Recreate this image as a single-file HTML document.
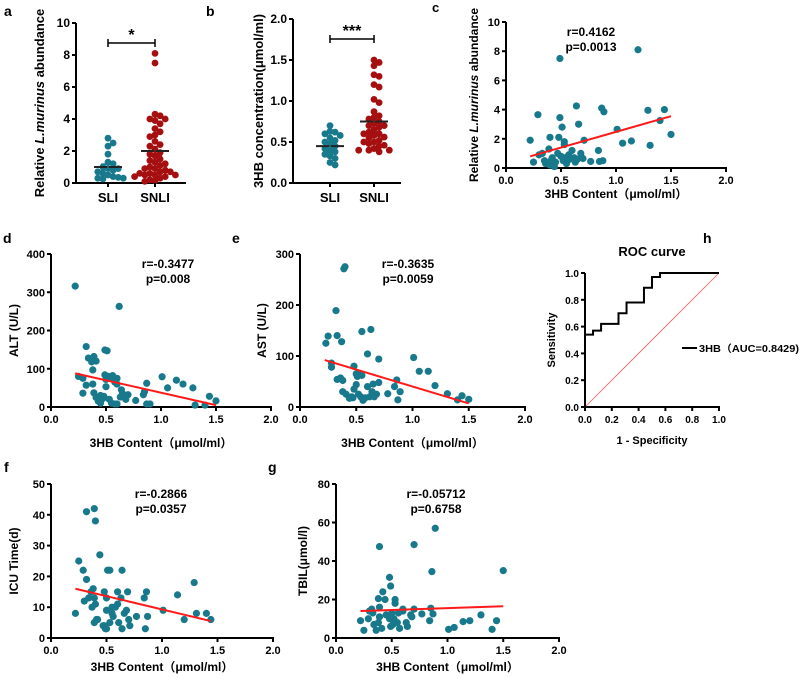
<!DOCTYPE html>
<html><head><meta charset="utf-8"><style>
body{margin:0;background:#fff}
svg{display:block;font-family:"Liberation Sans","Noto Sans CJK SC",Arial,sans-serif;font-weight:bold}
</style></head><body>
<svg id="fig" width="800" height="678" viewBox="0 0 800 678" xmlns="http://www.w3.org/2000/svg">
<g font-size="14">
<text x="4" y="16">a</text>
<text x="206" y="16">b</text>
<text x="432" y="12" font-size="13">c</text>
<text x="3" y="243">d</text>
<text x="232" y="243">e</text>
<text x="703" y="243">h</text>
<text x="4" y="472">f</text>
<text x="268" y="472">g</text>
</g>
</svg>
<script>
const TEAL='#18798c', DARKRED='#a50f0f', LRED='#ff1a1a';
// Panel a
const aSLI=[2.8,2.5,2.3,1.8,1.3,1.2,1.0,0.9,0.9,0.8,0.7,0.6,0.5,0.4,0.35,0.3,0.3,0.25];
const aSNLI=[8.1,7.5,4.3,4.2,4.0,4.0,3.9,3.7,3.4,3.2,3.0,2.9,2.6,2.4,2.3,2.1,1.9,1.8,1.7,1.5,1.4,1.3,1.2,1.1,1.0,0.9,0.9,0.8,0.7,0.7,0.6,0.6,0.5,0.5,0.5,0.4,0.4,0.3,0.2,0.15,0.1];
const aMean=[1.0,2.0], aSem=[0.18,0.28];
const aTicks=[0,2,4,6,8,10];
// Panel b
const bSLI=[0.7,0.63,0.62,0.6,0.58,0.55,0.52,0.5,0.48,0.45,0.42,0.4,0.38,0.35,0.33,0.3,0.25,0.22];
const bSNLI=[1.5,1.47,1.43,1.32,1.3,1.2,1.17,1.02,0.98,0.87,0.82,0.8,0.78,0.75,0.73,0.7,0.7,0.68,0.65,0.62,0.6,0.6,0.58,0.56,0.55,0.52,0.5,0.5,0.48,0.46,0.45,0.42,0.4,0.4,0.4,0.38];
const bMean=[0.45,0.75], bSem=[0.03,0.05];
const bTicks=[0,0.5,1.0,1.5,2.0];
const groups=['SLI','SNLI'];
// Panel c
const cX=[0.22,0.29,0.49,1.2,0.64,0.87,0.89,0.49,0.66,0.51,0.4,0.48,0.53,0.53,0.71,1.01,1.06,1.14,1.29,1.44,1.4,1.5,1.31,0.84,0.25,0.3,0.33,0.35,0.39,0.4,0.42,0.45,0.47,0.5,0.52,0.55,0.57,0.6,0.62,0.65,0.68,0.7,0.77,0.85,0.88,0.36,0.44,0.54,0.63,0.41,0.58];
const cY=[1.9,3.65,7.5,8.1,4.25,4.1,3.85,3.45,3.0,2.8,2.1,2.1,1.8,1.6,1.9,2.65,1.7,1.85,3.95,4.0,3.25,2.3,1.55,1.2,0.4,0.9,1.0,0.5,1.3,0.2,0.7,0.4,1.0,0.8,0.5,0.3,0.9,1.2,0.7,0.6,1.0,0.65,0.45,0.45,0.5,0.3,0.1,0.7,0.4,0.5,0.6];
const cFit=[[0.22,0.8],[1.5,3.55]];
// Panel d
const dX=[0.22,0.62,0.32,0.49,0.51,0.34,0.39,0.41,0.37,0.38,0.25,0.29,0.32,0.29,0.38,0.39,0.41,0.43,0.45,0.47,0.49,0.5,0.5,0.52,0.54,0.56,0.58,0.6,0.6,0.53,0.55,0.58,0.6,0.64,0.65,0.66,0.68,0.7,0.77,0.84,0.85,0.87,0.87,0.9,1.01,1.06,1.14,1.2,1.29,1.31,1.4,1.44,1.5,0.48,0.45,0.63];
const dY=[316,263,158,149,147,128,132,120,118,97,80,75,57,36,60,37,25,15,10,22,84,72,53,80,75,82,65,75,60,20,10,8,8,45,35,30,20,32,17,32,40,62,8,8,79,50,70,60,50,5,5,28,16,28,30,26];
const dFit=[[0.22,88],[1.5,5]];
// Panel e
const eX=[0.4,0.39,0.32,0.23,0.25,0.33,0.37,0.55,0.63,0.6,0.7,0.28,0.28,0.33,0.36,0.38,0.38,0.41,0.44,0.46,0.48,0.5,0.51,0.53,0.55,0.48,0.5,0.52,0.54,0.56,0.6,0.62,0.64,0.65,0.66,0.68,0.7,0.78,0.84,0.86,0.87,0.89,1.01,1.06,1.14,1.2,1.31,1.4,1.44,1.5,0.47,0.58];
const eY=[275,271,189,125,139,140,128,148,152,104,94,86,78,54,57,52,30,25,17,20,80,65,60,63,62,35,44,25,20,13,40,20,30,45,20,25,48,26,40,53,14,30,97,70,70,42,26,14,22,15,18,18];
const eFit=[[0.22,92],[1.5,7]];
// Panel f
const fX=[0.32,0.39,0.4,0.44,0.25,0.29,0.32,0.22,0.3,0.34,0.36,0.38,0.39,0.37,0.4,0.39,0.41,0.42,0.48,0.5,0.51,0.53,0.64,0.6,0.63,0.69,0.86,0.84,0.5,0.53,0.55,0.56,0.58,0.6,0.61,0.64,0.66,0.68,0.7,0.71,0.77,0.85,0.87,0.48,0.49,0.5,0.47,1.01,1.14,1.2,1.29,1.31,1.4,1.44,0.55];
const fY=[41,42,38,27,25,22,19,8,12,13,15,16,13,10,11,5,6,6,15,13,22,22,22,15,13,15,15,13,9,5,8,7,10,11,5,3,8,9,6,4,7,3,7,4,3,3,4,9,14,6,18,8,8,6,10];
const fFit=[[0.22,16],[1.44,5.5]];
// Panel g
const gX=[0.89,0.7,0.39,0.86,1.5,0.48,0.49,0.42,0.38,0.44,0.53,0.53,0.22,0.25,0.29,0.3,0.32,0.33,0.34,0.36,0.38,0.39,0.39,0.45,0.48,0.5,0.49,0.52,0.55,0.56,0.57,0.6,0.6,0.63,0.64,0.67,0.68,0.7,0.77,0.84,0.85,0.87,1.01,1.06,1.14,1.2,1.3,1.4,1.44,0.41,0.51];
const gY=[57,48.5,47.5,34.5,35,31.5,27,24,20.5,20,20,18,9,4,10,14,15,13,7,4,8,11,16,12,10,13,6,10,8,13,5,14,15,8,6,12,11,15,12.5,9,15.5,12.5,4.5,5.5,8.5,9,12,4.5,9,5,7];
const gFit=[[0.22,14],[1.5,16.5]];
// Panel h (ROC)
const rocFPR=[0,0,0.06,0.06,0.12,0.12,0.25,0.25,0.31,0.31,0.44,0.44,0.5,0.5,0.56,0.56,1];
const rocTPR=[0,0.54,0.54,0.57,0.57,0.62,0.62,0.7,0.7,0.78,0.78,0.89,0.89,0.97,0.97,1,1];
const xTicks2=[0,0.5,1.0,1.5,2.0];
const rocTicks=[0,0.2,0.4,0.6,0.8,1.0];

const svg=document.getElementById('fig');
const NS='http://www.w3.org/2000/svg';
function el(tag,attrs,parent,txt){const e=document.createElementNS(NS,tag);for(const k in attrs)e.setAttribute(k,attrs[k]);if(txt!==undefined)e.textContent=txt;(parent||svg).appendChild(e);return e;}
function fmt(v,dec){return dec?v.toFixed(dec):String(v);}

function axes(g,x0,x1,y0,y1,yTicks,yMin,yMax,dec,xTicks,xMin,xMax,xdec,fs){
  const sy=v=>y0-(v-yMin)/(yMax-yMin)*(y0-y1);
  const sx=v=>x0+(v-xMin)/(xMax-xMin)*(x1-x0);
  const ya=el('line',{x1:x0,y1:y0+1,x2:x0,y2:y1,stroke:'#000','stroke-width':2},g);
  
  const xa=el('line',{x1:x0-1,y1:y0,x2:x1+1,y2:y0,stroke:'#000','stroke-width':2},g);
  
  yTicks.forEach(v=>{const y=sy(v);
    el('line',{x1:x0-4,y1:y,x2:x0,y2:y,stroke:'#000','stroke-width':2},g);
    const t=el('text',{x:x0-6,y:y+4,'text-anchor':'end','font-size':fs||11},g,fmt(v,dec));
    });
  if(xTicks)xTicks.forEach(v=>{const x=sx(v);
    el('line',{x1:x,y1:y0,x2:x,y2:y0+4,stroke:'#000','stroke-width':2},g);
    const t=el('text',{x:x,y:y0+16,'text-anchor':'middle','font-size':fs||11},g,fmt(v,xdec));
    });
  return {sx,sy};
}
function ytitle(g,x,y,txt,fs){const t=el('text',{x:x,y:y,'text-anchor':'middle','font-size':fs||12,transform:`rotate(-90 ${x} ${y})`},g);
  if(typeof txt==='string')t.textContent=txt;else txt.forEach(p=>{el('tspan',p[1]?{'font-style':'italic'}:{},t,p[0]);});
  return t;}
function xtitle(g,x,y,txt){const t=el('text',{x:x,y:y,'text-anchor':'middle','font-size':12},g,txt);
  }
function stats(g,x,y,r,p){const t1=el('text',{x:x,y:y,'text-anchor':'middle','font-size':12},g,r);
  
  const t2=el('text',{x:x,y:y+15,'text-anchor':'middle','font-size':12},g,p);
  }

function scatter(name,X,Y,fit,geom,yTicks,yMax,ytxt,st,xtOff){
  const g=el('g',{});
  const a=axes(g,geom[0],geom[1],geom[2],geom[3],yTicks,0,yMax,geom[4],xTicks2,0,2,1);
  X.forEach((x,i)=>{const c=el('circle',{cx:a.sx(x),cy:a.sy(Y[i]),r:3.6,fill:TEAL},g);
    });
  const l=el('line',{x1:a.sx(fit[0][0]),y1:a.sy(fit[0][1]),x2:a.sx(fit[1][0]),y2:a.sy(fit[1][1]),stroke:LRED,'stroke-width':2},g);
  
  if(ytxt)ytitle(g,geom[5],(geom[2]+geom[3])/2,ytxt);
  xtitle(g,(geom[0]+geom[1])/2,geom[2]+xtOff,'3HB Content\uFF08\u03BCmol/ml\uFF09');
  stats(g,geom[6],geom[3]+14,st[0],st[1]);
  return g;
}

function swarm(vals,sy,cx,r){const placed=[];const d=r*1.5;return vals.map(v=>{const y=sy(v);let k=0;
  for(;;){const off=(k%2?1:-1)*Math.ceil(k/2)*d;const x=cx+off;
    if(placed.every(p=>Math.hypot(p[0]-x,p[1]-y)>=d)){placed.push([x,y]);return [x,y];}k++;}});}

function dotplot(name,s1,s2,mean,sem,geom,yTicks,yMax,dec,ytxt,stars,brY){
  const g=el('g',{});
  const a=axes(g,geom[0],geom[1],geom[2],geom[3],yTicks,0,yMax,dec,null,0,1,0,12);
  const cxs=[geom[4],geom[5]];const cols=[TEAL,DARKRED];
  [s1,s2].forEach((s,gi)=>{swarm(s,a.sy,cxs[gi],3.4).forEach(p=>{const c=el('circle',{cx:p[0],cy:p[1],r:3.4,fill:cols[gi]},g);
    });
    const m=el('line',{x1:cxs[gi]-14,y1:a.sy(mean[gi]),x2:cxs[gi]+14,y2:a.sy(mean[gi]),stroke:'#222','stroke-width':2},g);
    
    el('path',{d:`M${cxs[gi]-7},${a.sy(mean[gi]+sem[gi])}H${cxs[gi]+7}M${cxs[gi]},${a.sy(mean[gi]+sem[gi])}V${a.sy(mean[gi]-sem[gi])}M${cxs[gi]-7},${a.sy(mean[gi]-sem[gi])}H${cxs[gi]+7}`,stroke:cols[gi],'stroke-width':1.5,fill:'none'},g);
    el('line',{x1:cxs[gi],y1:geom[2],x2:cxs[gi],y2:geom[2]+4,stroke:'#000','stroke-width':2},g);
    const t=el('text',{x:cxs[gi],y:geom[2]+19,'text-anchor':'middle','font-size':13},g,groups[gi]);
    });
  const b=el('path',{d:`M${cxs[0]},${brY-4}V${brY+4}M${cxs[0]},${brY}H${cxs[1]}M${cxs[1]},${brY-4}V${brY+4}`,stroke:'#000','stroke-width':1.5,fill:'none'},g);
  
  const st=el('text',{x:(cxs[0]+cxs[1])/2,y:brY-3,'text-anchor':'middle','font-size':16},g,stars);
  
  ytitle(g,geom[6],(geom[2]+geom[3])/2,ytxt,13);
}

dotplot('panel-a',aSLI,aSNLI,aMean,aSem,[76,185,183,23,108,155,44],aTicks,10,0,[['Relative '],['L.murinus',1],[' abundance']],'*',43);
dotplot('panel-b',bSLI,bSNLI,bMean,bSem,[293,400,183,19,330,374,263],bTicks,2,1,'3HB concentration(\u03BCmol/ml)','***',39);
const gc=scatter('panel-c',cX,cY,cFit,[506,726,168,22,0,478,591],aTicks,10,null,['r=0.4162','p=0.0013'],30);
ytitle(gc,478,95,[['Relative '],['L.murinus',1],[' abundance']],12);
scatter('panel-d',dX,dY,dFit,[51,271,407,254,0,18,168],[0,100,200,300,400],400,'ALT (U/L)',['r=-0.3477','p=0.008'],40);
scatter('panel-e',eX,eY,eFit,[300,525,407,254,0,266,408],[0,100,200,300],300,'AST (U/L)',['r=-0.3635','p=0.0059'],40);
scatter('panel-f',fX,fY,fFit,[51,273,638,484,0,18,161],[0,10,20,30,40,50],50,'ICU Time(d)',['r=-0.2866','p=0.0357'],33);
scatter('panel-g',gX,gY,gFit,[336,559,638,484,0,307,436],[0,20,40,60,80],80,'TBIL(\u03BCmol/l)',['r=-0.05712','p=0.6758'],33);

(function(){const g=el('g',{});
  const a=axes(g,585,719,407,273,rocTicks,0,1,1,rocTicks,0,1,1,10);
  const d=el('line',{x1:a.sx(0),y1:a.sy(0),x2:a.sx(1),y2:a.sy(1),stroke:'#ff5a5a','stroke-width':0.8},g);
  
  const p=el('polyline',{points:rocFPR.map((x,i)=>a.sx(x)+','+a.sy(rocTPR[i])).join(' '),fill:'none',stroke:'#000','stroke-width':2},g);
  
  const t=el('text',{x:652,y:256,'text-anchor':'middle','font-size':13},g,'ROC curve');
  
  ytitle(g,555,340,'Sensitivity',11);
  const xt=el('text',{x:652,y:444,'text-anchor':'middle','font-size':11},g,'1 - Specificity');
  
  const ll=el('line',{x1:682,y1:348,x2:697,y2:348,stroke:'#000','stroke-width':2},g);
  
  const lt=el('text',{x:699,y:352,'font-size':10,'textLength':100,'lengthAdjust':'spacingAndGlyphs'},g,'3HB\uFF08AUC=0.8429)');
  
})();
</script>
</body></html>
